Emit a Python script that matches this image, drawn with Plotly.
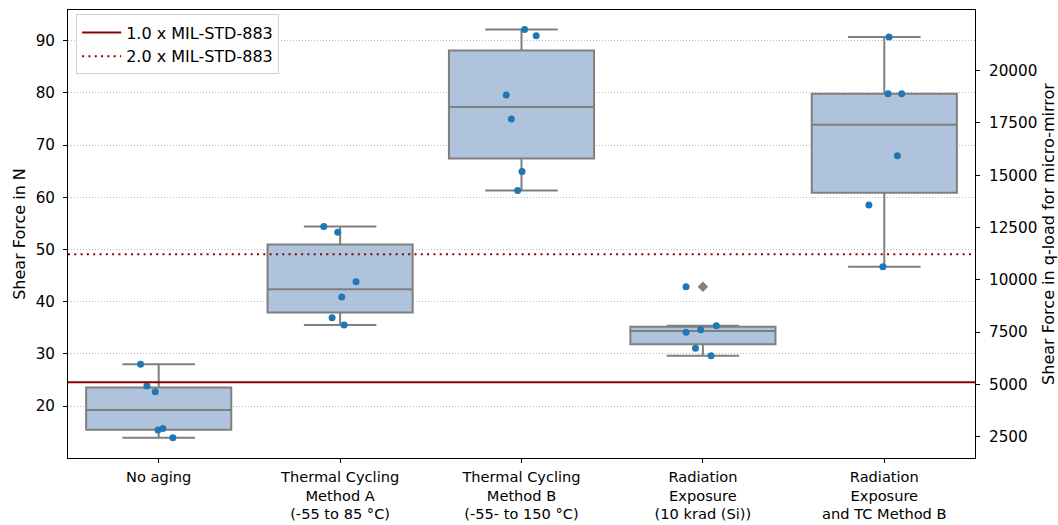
import numpy as np
import plotly.graph_objects as go

# Shear test results per aging condition (N)
categories = [
    "No aging",
    "Thermal Cycling<br>Method A<br>(-55 to 85 °C)",
    "Thermal Cycling<br>Method B<br>(-55- to 150 °C)",
    "Radiation<br>Exposure<br>(10 krad (Si))",
    "Radiation<br>Exposure<br>and TC Method B",
]
no_aging = [28.0, 23.84, 22.74, 15.40, 15.72, 13.92]
tc_method_a = [54.39, 53.31, 43.84, 40.90, 36.94, 35.53]
tc_method_b = [92.17, 90.96, 79.59, 74.99, 64.94, 61.29]
radiation = [42.88, 35.40, 34.63, 34.13, 31.07, 29.65]
radiation_tc_b = [90.71, 79.84, 79.84, 67.95, 58.55, 46.72]
groups = [no_aging, tc_method_a, tc_method_b, radiation, radiation_tc_b]

# horizontal strip-plot jitter (category units)
jitter = [
    [-0.100, -0.065, -0.019, -0.004, 0.023, 0.078],
    [-0.090, -0.013, 0.088, 0.009, -0.044, 0.022],
    [0.017, 0.081, -0.084, -0.056, 0.003, -0.021],
    [-0.093, 0.074, -0.012, -0.093, -0.041, 0.045],
    [0.026, 0.021, 0.096, 0.072, -0.085, -0.008],
]

# MIL-STD-883 minimum shear force (N)
mil_std_883 = 24.55
limit_factors = [1.0, 2.0]

left_ticks = [20, 30, 40, 50, 60, 70, 80, 90]
right_ticks = [2500, 5000, 7500, 10000, 12500, 15000, 17500, 20000]

FONT = "DejaVu Sans"
BOX_FILL = "#b0c3dc"
BOX_LINE = "#7f7f7f"
POINT = "#1f77b4"
RED = "#8b0000"
TICK_SIZE = 15.2
XTICK_SIZE = 14.6
LABEL_SIZE = 16


def box_stats(vals):
    """Quartiles (linear interpolation) and 1.5*IQR whiskers."""
    a = np.asarray(vals, dtype=float)
    q1, med, q3 = np.percentile(a, [25, 50, 75])
    iqr = q3 - q1
    inside = a[(a >= q1 - 1.5 * iqr) & (a <= q3 + 1.5 * iqr)]
    outliers = a[(a < q1 - 1.5 * iqr) | (a > q3 + 1.5 * iqr)]
    return q1, med, q3, inside.min(), inside.max(), outliers


fig = go.Figure()

out_x, out_y = [], []
for i, vals in enumerate(groups):
    q1, med, q3, lo, hi, outl = box_stats(vals)
    fig.add_trace(go.Box(
        x=[i], q1=[q1], median=[med], q3=[q3],
        lowerfence=[lo], upperfence=[hi],
        width=0.8, whiskerwidth=0.5,
        fillcolor=BOX_FILL,
        line=dict(color=BOX_LINE, width=2),
        boxpoints=False,
        showlegend=False, hoverinfo="skip",
    ))
    out_x += [i] * len(outl)
    out_y += list(outl)

# outliers
fig.add_trace(go.Scatter(
    x=out_x, y=out_y, mode="markers",
    marker=dict(symbol="diamond", color=BOX_LINE, size=8, line=dict(width=0)),
    showlegend=False,
))

for i, vals in enumerate(groups):
    fig.add_trace(go.Scatter(
        x=[i + d for d in jitter[i]], y=vals,
        mode="markers",
        marker=dict(color=POINT, size=7, line=dict(width=0)),
        showlegend=False,
    ))

dash_styles = ["solid", "2px,4.3px"]
for k, f in enumerate(limit_factors):
    fig.add_trace(go.Scatter(
        x=[-0.5, len(categories) - 0.5], y=[f * mil_std_883] * 2,
        mode="lines",
        line=dict(color=RED, width=2, dash=dash_styles[k]),
        name=f"{f:.1f} x MIL-STD-883",
    ))

# second axis carries the q-load scale
fig.add_trace(go.Scatter(x=[None], y=[None], yaxis="y2",
                         showlegend=False, hoverinfo="skip"))

fig.update_layout(
    width=1058, height=525,
    margin=dict(l=68, r=83, t=10, b=67),
    plot_bgcolor="white", paper_bgcolor="white",
    font=dict(family=FONT, size=TICK_SIZE, color="black"),
    xaxis=dict(
        range=[-0.5, len(categories) - 0.5],
        tickmode="array", tickvals=list(range(len(categories))),
        ticktext=categories,
        ticks="outside", ticklen=4, tickcolor="black",
        tickfont=dict(size=XTICK_SIZE), ticklabelstandoff=1,
        showline=True, linecolor="black", linewidth=1, mirror=True,
        showgrid=False, zeroline=False, automargin=False,
    ),
    yaxis=dict(
        range=[10.05, 95.9],
        tickmode="array", tickvals=left_ticks,
        ticks="outside", ticklen=4, tickcolor="black",
        tickfont=dict(size=TICK_SIZE), ticklabelstandoff=5,
        showline=True, linecolor="black", linewidth=1,
        showgrid=True, gridcolor="#b8b8b8", gridwidth=1, griddash="1px,2px",
        zeroline=False, automargin=False,
        title=dict(text="Shear Force in N", standoff=6,
                   font=dict(size=LABEL_SIZE)),
    ),
    yaxis2=dict(
        overlaying="y", side="right",
        range=[1482, 22901],
        tickmode="array", tickvals=right_ticks, tickformat="d",
        ticks="outside", ticklen=4, tickcolor="black",
        tickfont=dict(size=TICK_SIZE), ticklabelstandoff=6,
        showline=True, linecolor="black", linewidth=1,
        showgrid=False, zeroline=False, automargin=False,
        title=dict(text="Shear Force in q-load for micro-mirror", standoff=7,
                   font=dict(size=LABEL_SIZE)),
    ),
    legend=dict(
        x=0.009, y=0.99, xanchor="left", yanchor="top",
        bgcolor="rgba(255,255,255,0.85)",
        bordercolor="#d0d0d0", borderwidth=1,
        font=dict(size=LABEL_SIZE), itemwidth=39,
    ),
    showlegend=True,
)

fig.write_html("out.html")
